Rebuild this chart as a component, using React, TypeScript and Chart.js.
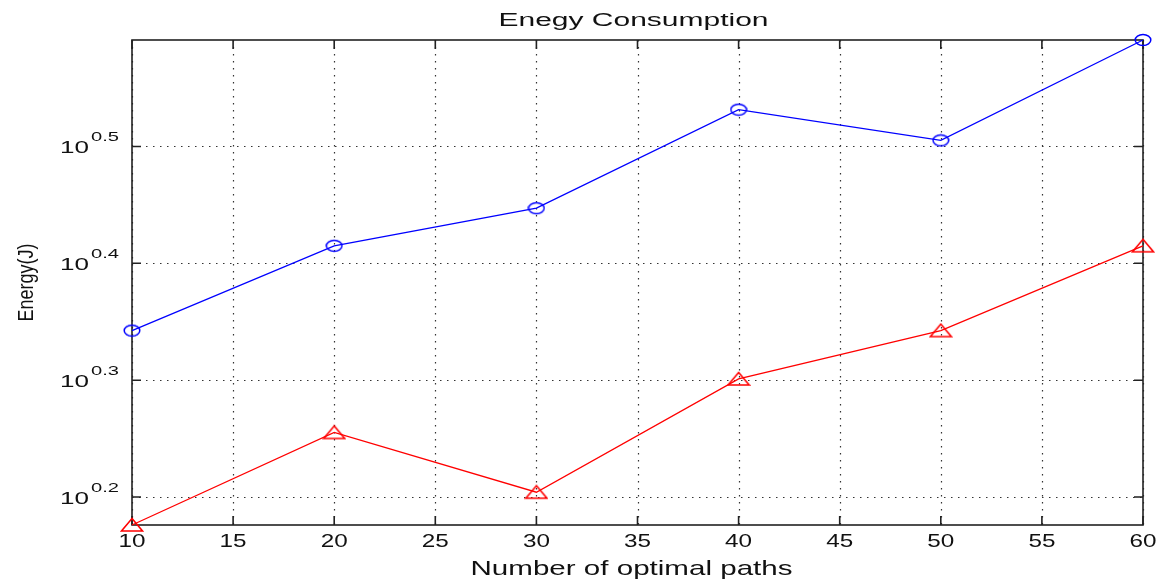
import React, { useEffect, useRef } from "react";
import { Chart, registerables } from "chart.js";

Chart.register(...registerables);

const paths = [10, 20, 30, 40, 50, 60];
const blueEnergy = [2.2, 2.6, 2.8, 3.4, 3.2, 3.9];
const redEnergy = [1.5, 1.8, 1.6, 2.0, 2.2, 2.6];
const xTickValues = [10, 15, 20, 25, 30, 35, 40, 45, 50, 55, 60];
const yTickExponents = [0.2, 0.3, 0.4, 0.5];
const titleText = "Enegy Consumption";
const xTitleText = "Number of optimal paths";
const yTitleText = "Energy(J)";

const FONT = '"Liberation Sans", Arial, Helvetica, sans-serif';
const TEXT_COLOR = "#111";

function makeEllipse(color: string) {
  const c = document.createElement("canvas");
  c.width = 18;
  c.height = 14;
  const g = c.getContext("2d")!;
  g.strokeStyle = color;
  g.lineWidth = 1.5;
  g.beginPath();
  g.ellipse(9, 7, 7.8, 5.6, 0, 0, Math.PI * 2);
  g.stroke();
  return c;
}

function makeTriangle(color: string) {
  const c = document.createElement("canvas");
  c.width = 24;
  c.height = 16;
  const g = c.getContext("2d")!;
  g.strokeStyle = color;
  g.lineWidth = 1.5;
  g.beginPath();
  g.moveTo(12, 1.5);
  g.lineTo(1.5, 14);
  g.lineTo(22.5, 14);
  g.closePath();
  g.stroke();
  return c;
}

function drawStretched(
  ctx: CanvasRenderingContext2D,
  text: string,
  x: number,
  y: number,
  font: string,
  sx: number,
  align: CanvasTextAlign
) {
  ctx.save();
  ctx.font = font;
  ctx.fillStyle = TEXT_COLOR;
  ctx.textAlign = align;
  ctx.textBaseline = "alphabetic";
  ctx.translate(x, y);
  ctx.scale(sx, 1);
  ctx.fillText(text, 0, 0);
  ctx.restore();
}

function widthOf(ctx: CanvasRenderingContext2D, text: string, font: string) {
  ctx.save();
  ctx.font = font;
  const w = ctx.measureText(text).width;
  ctx.restore();
  return w;
}

const frameAndGrid = {
  id: "frameAndGrid",
  beforeDatasetsDraw(chart: any) {
    const { ctx, chartArea: a, scales } = chart;
    const xs = scales.x;
    const ys = scales.y;
    ctx.save();
    // dotted grid
    ctx.strokeStyle = "#333";
    ctx.lineWidth = 1.2;
    ctx.setLineDash([1.5, 5.5]);
    xs.ticks.forEach((t: any) => {
      const px = Math.round(xs.getPixelForValue(t.value)) + 0.5;
      ctx.beginPath();
      ctx.moveTo(px, a.top);
      ctx.lineTo(px, a.bottom);
      ctx.stroke();
    });
    ys.ticks.forEach((t: any) => {
      const py = Math.round(ys.getPixelForValue(t.value)) + 0.5;
      ctx.beginPath();
      ctx.moveTo(a.left, py);
      ctx.lineTo(a.right, py);
      ctx.stroke();
    });
    ctx.setLineDash([]);
    // box
    ctx.strokeStyle = "#222";
    ctx.lineWidth = 1.6;
    ctx.strokeRect(a.left, a.top, a.right - a.left, a.bottom - a.top);
    // inward ticks
    const tl = 9;
    xs.ticks.forEach((t: any) => {
      const px = xs.getPixelForValue(t.value);
      ctx.beginPath();
      ctx.moveTo(px, a.bottom);
      ctx.lineTo(px, a.bottom - tl);
      ctx.moveTo(px, a.top);
      ctx.lineTo(px, a.top + tl);
      ctx.stroke();
    });
    ys.ticks.forEach((t: any) => {
      const py = ys.getPixelForValue(t.value);
      ctx.beginPath();
      ctx.moveTo(a.left, py);
      ctx.lineTo(a.left + tl, py);
      ctx.moveTo(a.right, py);
      ctx.lineTo(a.right - tl, py);
      ctx.stroke();
    });
    ctx.restore();
  },
};

const textLayer = {
  id: "textLayer",
  afterDraw(chart: any) {
    const { ctx, chartArea: a, scales } = chart;
    const xs = scales.x;
    const ys = scales.y;
    const cx = (a.left + a.right) / 2;

    // title
    const tFont = `18px ${FONT}`;
    drawStretched(ctx, titleText, cx - 4, 26, tFont, 270 / widthOf(ctx, titleText, tFont), "center");

    // x tick labels
    const xtFont = `18px ${FONT}`;
    const xsx = 27 / widthOf(ctx, "10", xtFont);
    xs.ticks.forEach((t: any) => {
      drawStretched(ctx, String(t.value), xs.getPixelForValue(t.value), a.bottom + 21.5, xtFont, xsx, "center");
    });

    // x title
    const xtitleFont = `21px ${FONT}`;
    drawStretched(ctx, xTitleText, cx - 6, a.bottom + 50, xtitleFont, 322 / widthOf(ctx, xTitleText, xtitleFont), "center");

    // y tick labels 10^e
    const baseFont = `17px ${FONT}`;
    const supFont = `13px ${FONT}`;
    const bsx = 29 / widthOf(ctx, "10", baseFont);
    const ssx = 28 / widthOf(ctx, "0.5", supFont);
    ys.ticks.forEach((t: any) => {
      const py = ys.getPixelForValue(t.value);
      const e = Math.log10(t.value).toFixed(1);
      drawStretched(ctx, "10", a.left - 43, py + 7, baseFont, bsx, "right");
      drawStretched(ctx, e, a.left - 41, py - 5, supFont, ssx, "left");
    });

    // y title (rotated)
    const ytFont = `17px ${FONT}`;
    const ylen = 78 / widthOf(ctx, yTitleText, ytFont);
    ctx.save();
    ctx.font = ytFont;
    ctx.fillStyle = TEXT_COLOR;
    ctx.textAlign = "center";
    ctx.textBaseline = "middle";
    ctx.translate(27, (a.top + a.bottom) / 2);
    ctx.rotate(-Math.PI / 2);
    ctx.scale(ylen, 1.3);
    ctx.fillText(yTitleText, 0, 0);
    ctx.restore();
  },
};

export default function App() {
  const ref = useRef<HTMLCanvasElement | null>(null);

  useEffect(() => {
    document.body.style.margin = "0";
    const canvas = ref.current;
    if (!canvas) return;
    const chart = new Chart(canvas, {
      type: "line",
      data: {
        datasets: [
          {
            label: "Blue",
            data: paths.map((x, i) => ({ x, y: blueEnergy[i] })),
            borderColor: "#0000ff",
            backgroundColor: "#0000ff",
            borderWidth: 1.3,
            pointStyle: makeEllipse("#0000ff") as any,
            clip: false as any,
            tension: 0,
          },
          {
            label: "Red",
            data: paths.map((x, i) => ({ x, y: redEnergy[i] })),
            borderColor: "#ff0000",
            backgroundColor: "#ff0000",
            borderWidth: 1.3,
            pointStyle: makeTriangle("#ff0000") as any,
            clip: false as any,
            tension: 0,
          },
        ],
      },
      options: {
        animation: false,
        responsive: false,
        layout: { padding: { top: 40, right: 22, left: 0, bottom: 0 } },
        plugins: {
          legend: { display: false },
          title: { display: false },
          tooltip: { enabled: false },
        },
        scales: {
          x: {
            type: "linear",
            min: 10,
            max: 60,
            afterBuildTicks: (s: any) => {
              s.ticks = xTickValues.map((v) => ({ value: v }));
            },
            afterFit: (s: any) => {
              s.height = 54;
            },
            ticks: { display: false },
            grid: { display: false },
            border: { display: false },
          },
          y: {
            type: "logarithmic",
            min: 1.5,
            max: 3.9,
            afterBuildTicks: (s: any) => {
              s.ticks = yTickExponents.map((e) => ({ value: Math.pow(10, e) }));
            },
            afterFit: (s: any) => {
              s.width = 132;
            },
            ticks: { display: false },
            grid: { display: false },
            border: { display: false },
          },
        },
      },
      plugins: [frameAndGrid, textLayer],
    });
    return () => chart.destroy();
  }, []);

  return (
    <div style={{ width: 1165, height: 579, background: "#fff" }}>
      <canvas ref={ref} width={1165} height={579} style={{ display: "block" }} />
    </div>
  );
}
